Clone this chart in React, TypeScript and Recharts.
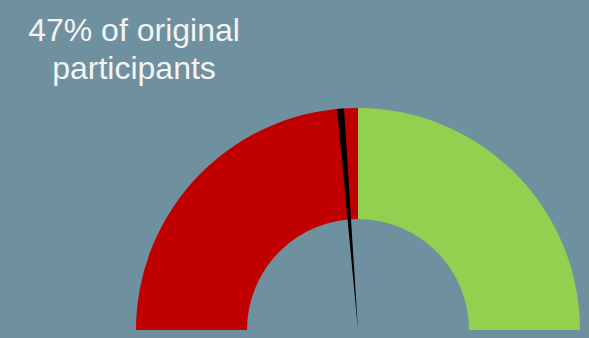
import { PieChart, Pie, Cell } from "recharts";

const segments = ["Dropped", "Retained"];
const segmentValues = [50, 50];
const segmentColors = ["#c00000", "#92d050"];

// needle sits at 47% of the half circle
const needleParts = ["before", "needle", "after"];
const needleValues = [47, 1, 52];
const needleColors = ["transparent", "#000000", "transparent"];

const titleLines = ["47% of original", "participants"];

export default function App() {
  const gaugeData = segments.map((name, i) => ({ name, value: segmentValues[i] }));
  const needleData = needleParts.map((name, i) => ({ name, value: needleValues[i] }));
  return (
    <div
      style={{
        position: "fixed",
        left: 0,
        top: 0,
        width: 589,
        height: 338,
        background: "#6f909f",
        overflow: "hidden",
      }}
    >
      <div
        style={{
          position: "absolute",
          left: 0,
          top: 11,
          width: 268,
          textAlign: "center",
          fontFamily: "'Liberation Sans', Arial, sans-serif",
          fontSize: 32,
          lineHeight: "38px",
          color: "#f4f4f4",
        }}
      >
        {titleLines.map((t) => (
          <div key={t}>{t}</div>
        ))}
      </div>
      <PieChart
        width={589}
        height={338}
        margin={{ top: 0, right: 0, bottom: 0, left: 0 }}
        style={{ position: "absolute", left: 0, top: 0 }}
      >
        <Pie
          data={gaugeData}
          dataKey="value"
          cx={358}
          cy={330}
          startAngle={180}
          endAngle={0}
          innerRadius={111}
          outerRadius={222}
          stroke="none"
          isAnimationActive={false}
        >
          {gaugeData.map((d, i) => (
            <Cell key={d.name} fill={segmentColors[i]} />
          ))}
        </Pie>
        <Pie
          data={needleData}
          dataKey="value"
          cx={358}
          cy={330}
          startAngle={180}
          endAngle={0}
          innerRadius={0}
          outerRadius={222}
          stroke="none"
          isAnimationActive={false}
        >
          {needleData.map((d, i) => (
            <Cell key={d.name} fill={needleColors[i]} />
          ))}
        </Pie>
      </PieChart>
    </div>
  );
}
